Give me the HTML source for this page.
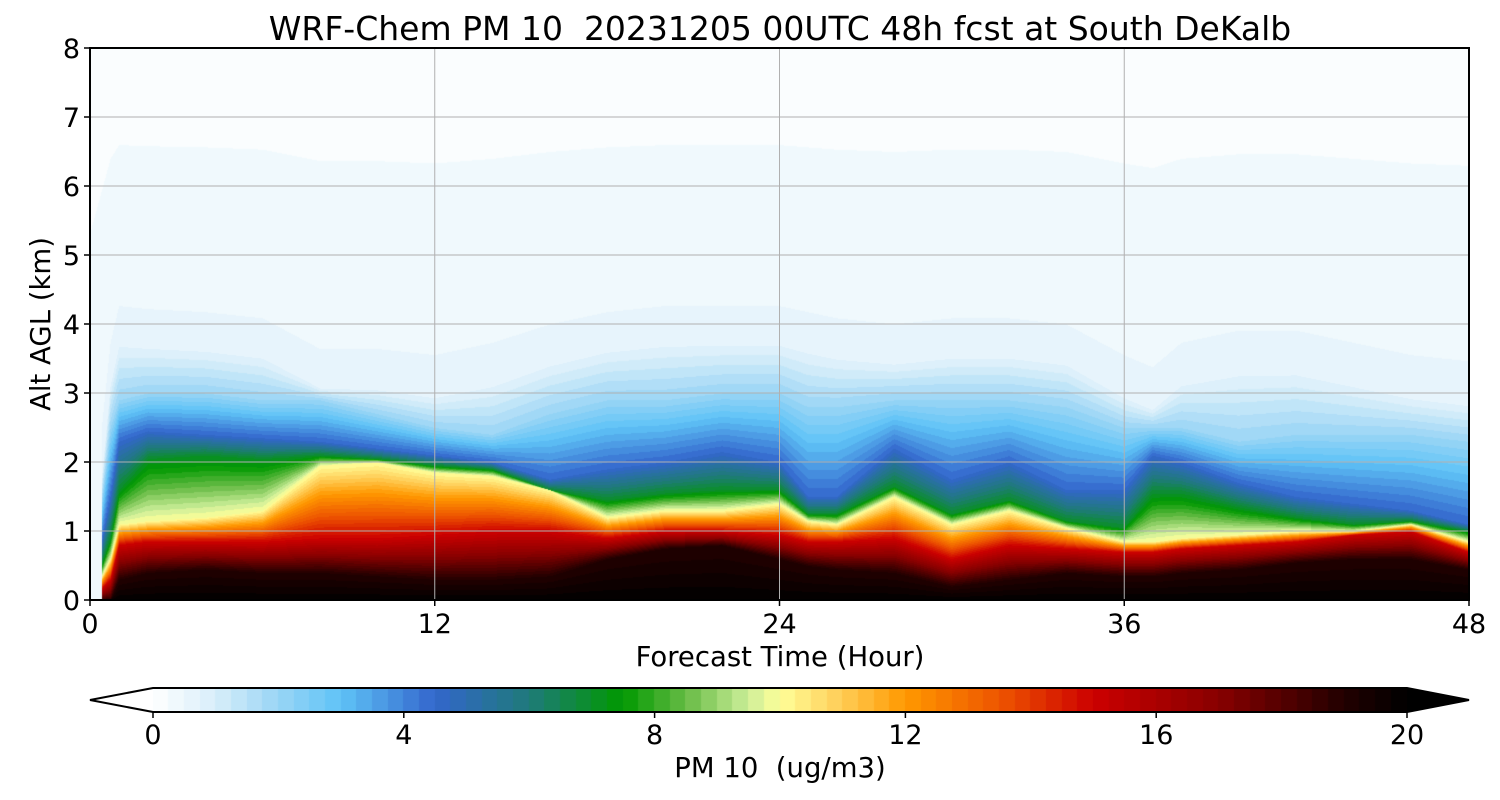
<!DOCTYPE html>
<html><head><meta charset="utf-8">
<style>
html,body{margin:0;padding:0;background:#fff;}
body{width:1500px;height:800px;position:relative;overflow:hidden;font-family:"DejaVu Sans","Liberation Sans",sans-serif;}
#field{position:absolute;left:90px;top:48px;}
svg{position:absolute;left:0;top:0;font-family:"DejaVu Sans","Liberation Sans",sans-serif;}
svg text{white-space:pre;}
#cbar{position:absolute;left:153px;top:688px;}
</style></head>
<body>
<canvas id="field" width="1379" height="552"></canvas>
<canvas id="cbar" width="1254" height="24"></canvas>
<svg id="svg" width="1500" height="800"></svg>
<script>
// ---- data: layer boundary heights (km) per forecast hour ----
const hours =     [0,0.7,1,2,4,6,8,10,12,14,16,18,20,22,24,25,26,28,30,32,34,36,37,38,40,42,44,46,48];
const blackTop =  [0,0,0.3,0.4,0.45,0.4,0.4,0.35,0.3,0.3,0.35,0.6,0.75,0.8,0.6,0.5,0.45,0.4,0.2,0.3,0.4,0.35,0.35,0.4,0.45,0.55,0.6,0.6,0.45];
const redTop =    [0,0.3,0.8,0.85,0.85,0.85,0.9,0.9,0.95,1.0,1.0,0.9,1.0,1.0,0.95,0.85,0.85,0.9,0.6,0.8,0.75,0.7,0.7,0.75,0.8,0.85,0.95,1.0,0.7];
const yellowTop = [0,0.6,1.1,1.15,1.2,1.3,1.95,2.0,1.85,1.8,1.6,1.2,1.3,1.3,1.4,1.15,1.1,1.5,1.1,1.3,1.05,0.85,0.85,0.9,0.95,1.0,1.0,1.1,0.85];
const greenTop =  [0,0.9,1.6,2.05,2.1,2.05,2.1,2.05,1.95,1.9,1.6,1.45,1.55,1.6,1.6,1.25,1.25,1.65,1.25,1.45,1.15,1.05,1.55,1.55,1.35,1.2,1.1,1.15,1.0];
const blueTop =   [0,1.5,2.3,2.45,2.4,2.35,2.3,2.2,2.1,2.0,1.75,1.9,2.0,2.15,2.0,1.5,1.5,2.2,1.75,2.0,1.6,1.6,2.1,2.0,1.7,1.5,1.4,1.3,1.1];
const lightTop =  [0,2.5,2.9,3.0,3.0,2.9,2.9,2.7,2.5,2.4,2.7,2.9,2.9,3.0,3.0,2.8,2.8,2.9,2.9,2.9,2.8,2.5,2.5,2.5,2.3,2.4,2.4,2.4,2.3];
const faintTop =  [0,3.2,3.8,3.75,3.7,3.6,3.1,3.1,3.0,3.2,3.5,3.7,3.8,3.8,3.8,3.7,3.6,3.5,3.6,3.6,3.5,3.0,2.8,3.2,3.4,3.4,3.2,3.0,2.9];
const layerValues = [20,19,15,10,7,4.5,2,0.55,0.1];
const xTicks = [0,12,24,36,48];
const yTicks = [0,1,2,3,4,5,6,7,8];
const cbTicks = [0,4,8,12,16,20];
const cmapVals = [0,1,2,3,4.5,6,7.5,8.5,9.5,10,11,12,13.5,15,17,19,20];
const cmapCols = ["#ffffff","#d8eefa","#99d5f5","#5fc3f7","#3366cc","#1f7a7a","#009900","#66bb44","#ccee99","#ffff99","#ffcc55","#ff9900","#ee5500","#cc0000","#880000","#220000","#000000"];

const PL=90,PR=1469,PT=48,PB=600;
const xS=h=>PL+(h/48)*(PR-PL);
const yS=k=>PB-(k/8)*(PB-PT);
function hex(c){return [parseInt(c.slice(1,3),16),parseInt(c.slice(3,5),16),parseInt(c.slice(5,7),16)];}
function cmap(v){
  v=Math.max(0,Math.min(20,Math.floor(v*4)/4+0.125));
  for(let i=1;i<cmapVals.length;i++){ if(v<=cmapVals[i]){const t=(v-cmapVals[i-1])/(cmapVals[i]-cmapVals[i-1]);const a=hex(cmapCols[i-1]),b=hex(cmapCols[i]);return a.map((x,j)=>Math.round(x+(b[j]-x)*t));}}
  return [0,0,0];
}
function interpArr(arr,h){for(let i=1;i<hours.length;i++){if(h<=hours[i]){const t=(h-hours[i-1])/(hours[i]-hours[i-1]);return arr[i-1]+(arr[i]-arr[i-1])*t;}}return arr[arr.length-1];}
const layers=[blackTop,redTop,yellowTop,greenTop,blueTop,lightTop,faintTop];

const fc=document.getElementById('field').getContext('2d');
const W=1379,H=552,img=fc.createImageData(W,H);
for(let px=0;px<W;px++){
  const h=px/(W-1)*48;
  const b=[0].concat(layers.map(a=>interpArr(a,h))).concat([8]);
  for(let i=1;i<b.length;i++) if(b[i]<b[i-1]+0.001) b[i]=b[i-1]+0.001;
  for(let py=0;py<H;py++){
    const k=(H-py)/H*8; let v=0.1;
    for(let i=1;i<b.length;i++){ if(k<=b[i]){const t=(k-b[i-1])/(b[i]-b[i-1]);v=layerValues[i-1]+(layerValues[i]-layerValues[i-1])*t;break;} }
    if(h<0.4) v=Math.min(v,0.3);
    const c=cmap(v),o=(py*W+px)*4;
    img.data[o]=c[0];img.data[o+1]=c[1];img.data[o+2]=c[2];img.data[o+3]=255;
  }
}
fc.putImageData(img,0,0);

const cc=document.getElementById('cbar').getContext('2d');
for(let i=0;i<80;i++){const c=cmap(i*0.25+0.01);cc.fillStyle=`rgb(${c})`;cc.fillRect(Math.floor(i*1254/80),0,Math.ceil(1254/80)+1,24);}

const svg=document.getElementById('svg');const NS='http://www.w3.org/2000/svg';
function el(tag,attrs,txt){const e=document.createElementNS(NS,tag);for(const k in attrs)e.setAttribute(k,attrs[k]);if(txt!==undefined)e.textContent=txt;svg.appendChild(e);return e;}
xTicks.slice(1,-1).forEach(t=>{const e=el('line',{x1:xS(t),x2:xS(t),y1:PT,y2:PB,stroke:'#b0b0b0','stroke-width':1});

});
yTicks.slice(1,-1).forEach(t=>{const e=el('line',{x1:PL,x2:PR,y1:yS(t),y2:yS(t),stroke:'#b0b0b0','stroke-width':1});

});
const fr=el('rect',{x:PL,y:PT,width:PR-PL,height:PB-PT,fill:'none',stroke:'#000','stroke-width':2});


xTicks.forEach(t=>{el('line',{x1:xS(t),x2:xS(t),y1:PB,y2:PB+6,stroke:'#000','stroke-width':1.5});
const e=el('text',{x:xS(t),y:PB+33,'text-anchor':'middle','font-size':27},t);

});
yTicks.forEach(t=>{el('line',{x1:PL-6,x2:PL,y1:yS(t),y2:yS(t),stroke:'#000','stroke-width':1.5});
const e=el('text',{x:PL-10,y:yS(t)+10,'text-anchor':'end','font-size':27},t);

});
let e;
e=el('text',{x:780,y:40,'text-anchor':'middle','font-size':33},'WRF-Chem PM 10  20231205 00UTC 48h fcst at South DeKalb');


e=el('text',{x:780,y:666,'text-anchor':'middle','font-size':27.5},'Forecast Time (Hour)');


e=el('text',{x:50,y:324,'text-anchor':'middle','font-size':27.5,transform:'rotate(-90 50 324)'},'Alt AGL (km)');


const cbx=v=>153+v/20*1254;
e=el('polygon',{points:`153,688 90,700 153,712`,fill:'#fff',stroke:'none'});


e=el('polygon',{points:`1407,688 1469,700 1407,712`,fill:'#000',stroke:'none'});


e=el('polygon',{points:`90,700 153,688 1407,688 1469,700 1407,712 153,712`,fill:'none',stroke:'#000','stroke-width':2});


cbTicks.forEach(t=>{el('line',{x1:cbx(t),x2:cbx(t),y1:712,y2:718,stroke:'#000','stroke-width':1.5});
const e2=el('text',{x:cbx(t),y:744,'text-anchor':'middle','font-size':27},t);

});
e=el('text',{x:780,y:777,'text-anchor':'middle','font-size':27.5},'PM 10  (ug/m3)');


</script>
</body></html>
